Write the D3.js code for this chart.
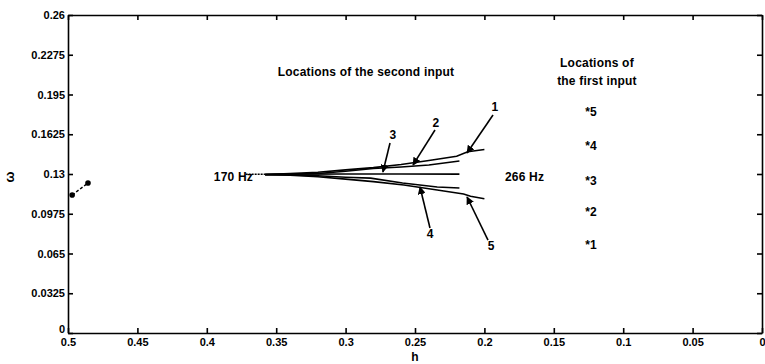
<!DOCTYPE html>
<html>
<head>
<meta charset="utf-8">
<script src="https://cdn.jsdelivr.net/npm/d3@7"></script>
<style>
  body { margin: 0; background: #fff; }
  svg { display: block; }
  text { font-family: "Liberation Sans Narrow", "Liberation Sans", Arial, sans-serif; font-weight: bold; fill: #000; }
  .axis path, .axis line { stroke: #000; stroke-width: 1.6px; }
  .axis text { font-size: 11px; }
</style>
</head>
<body>
<div id="chart"></div>
<script>
// axis ticks
const xTicks = [0.5, 0.45, 0.4, 0.35, 0.3, 0.25, 0.2, 0.15, 0.1, 0.05, 0];
const xTickLabels = ['0.5', '0.45', '0.4', '0.35', '0.3', '0.25', '0.2', '0.15', '0.1', '0.05', '0'];
const yTicks = [0, 0.0325, 0.065, 0.0975, 0.13, 0.1625, 0.195, 0.2275, 0.26];
const yTickLabels = ['0', '0.0325', '0.065', '0.0975', '0.13', '0.1625', '0.195', '0.2275', '0.26'];

// second-input trajectories (h, omega)
const curve1H = [0.358, 0.34, 0.32, 0.30, 0.28, 0.26, 0.24, 0.22, 0.212, 0.20];
const curve1W = [0.1296, 0.1304, 0.1314, 0.1334, 0.1352, 0.1378, 0.1410, 0.1445, 0.1482, 0.1500];
const curve2H = [0.358, 0.34, 0.32, 0.30, 0.28, 0.26, 0.24, 0.218];
const curve2W = [0.1296, 0.1300, 0.1304, 0.1322, 0.1345, 0.1357, 0.1374, 0.1406];
const curve3H = [0.358, 0.34, 0.30, 0.26, 0.218];
const curve3W = [0.1298, 0.1299, 0.1300, 0.1300, 0.1299];
const curve4H = [0.358, 0.34, 0.32, 0.30, 0.282, 0.259, 0.234, 0.218];
const curve4W = [0.1294, 0.1292, 0.1286, 0.1274, 0.1266, 0.1226, 0.1194, 0.1186];
const curve5H = [0.358, 0.34, 0.32, 0.30, 0.28, 0.258, 0.234, 0.215, 0.21, 0.20];
const curve5W = [0.1294, 0.1290, 0.1278, 0.1258, 0.1238, 0.1210, 0.1169, 0.1137, 0.1118, 0.1098];

// two marks at the left edge
const leftH = [0.497, 0.4856];
const leftW = [0.1128, 0.1226];

// first-input locations
const firstLabels = ['5', '4', '3', '2', '1'];
const firstH = 0.1232;
const firstW = [0.1807, 0.1529, 0.1243, 0.0989, 0.0720];

// numbered callouts: label pos, leader start, leader end
const calloutLabels = ['1', '2', '3', '4', '5'];
const calloutTextH = [0.1924, 0.2349, 0.2659, 0.2392, 0.1952];
const calloutTextW = [0.1848, 0.1717, 0.1619, 0.0809, 0.0711];
const leaderH0 = [0.1938, 0.2356, 0.2680, 0.2392, 0.1974];
const leaderW0 = [0.1782, 0.1660, 0.1553, 0.0858, 0.0760];
const leaderH1 = [0.2125, 0.2514, 0.2731, 0.2464, 0.2125];
const leaderW1 = [0.1472, 0.1374, 0.1316, 0.1194, 0.1112];

const width = 765, height = 364;
const margin = { top: 15, right: 3, bottom: 31, left: 68 };

const svg = d3.select('#chart').append('svg')
  .attr('width', width)
  .attr('height', height);

const x = d3.scaleLinear().domain([0.5, 0]).range([margin.left, width - margin.right]);
const y = d3.scaleLinear().domain([0, 0.26]).range([height - margin.bottom, margin.top]);

// axes, ticks pointing inward like matlab
svg.append('g').attr('class', 'axis')
  .attr('transform', 'translate(0,' + (height - margin.bottom) + ')')
  .call(d3.axisBottom(x).tickValues(xTicks).tickSizeInner(-5).tickSizeOuter(0).tickPadding(5)
    .tickFormat((d, i) => xTickLabels[i]));

svg.append('g').attr('class', 'axis')
  .attr('transform', 'translate(0,' + margin.top + ')')
  .call(d3.axisTop(x).tickValues(xTicks).tickSizeInner(-5).tickSizeOuter(0).tickFormat(''));

const yAxis = svg.append('g').attr('class', 'axis')
  .attr('transform', 'translate(' + margin.left + ',0)')
  .call(d3.axisLeft(y).tickValues(yTicks).tickSizeInner(-5).tickSizeOuter(0).tickPadding(3)
    .tickFormat((d, i) => yTickLabels[i]));
// lift the zero label off the x labels
yAxis.selectAll('.tick text').filter(d => d === 0).attr('dy', '-0.05em');

svg.append('g').attr('class', 'axis')
  .attr('transform', 'translate(' + (width - margin.right) + ',0)')
  .call(d3.axisRight(y).tickValues(yTicks).tickSizeInner(-5).tickSizeOuter(0).tickFormat(''));

svg.selectAll('.axis .domain').attr('stroke-width', 1.8);

svg.append('text')
  .attr('x', x(0.25)).attr('y', height - 3)
  .attr('text-anchor', 'middle')
  .style('font-size', '12px')
  .text('h');

svg.append('text')
  .attr('transform', 'translate(14,' + y(0.1275) + ') rotate(-90)')
  .attr('text-anchor', 'middle')
  .style('font-size', '13px')
  .text('ω');

// trajectories
const line = d3.line().x(d => x(d[0])).y(d => y(d[1]));
const curves = [
  [curve1H, curve1W], [curve2H, curve2W], [curve3H, curve3W], [curve4H, curve4W], [curve5H, curve5W]
];
svg.append('g').selectAll('path')
  .data(curves)
  .enter()
  .append('path')
  .attr('d', c => line(c[0].map((h, i) => [h, c[1][i]])))
  .attr('fill', 'none')
  .attr('stroke', '#000')
  .attr('stroke-width', 1.6);

// tail on the low-h side of the bundle
svg.append('path')
  .attr('d', line([[0.372, 0.1298], [0.358, 0.1298]]))
  .attr('stroke', '#000')
  .attr('stroke-width', 1.4)
  .attr('stroke-dasharray', '2,1');

// left marks
svg.append('path')
  .attr('d', line(leftH.map((h, i) => [h, leftW[i]])))
  .attr('stroke', '#000')
  .attr('stroke-width', 1.5)
  .attr('stroke-dasharray', '3,2');
svg.append('g').selectAll('circle')
  .data(leftH)
  .enter()
  .append('circle')
  .attr('cx', d => x(d))
  .attr('cy', (d, i) => y(leftW[i]))
  .attr('r', 2.8)
  .attr('fill', '#000');

// callouts
svg.append('defs').append('marker')
  .attr('id', 'arrow')
  .attr('viewBox', '0 0 10 10')
  .attr('refX', 9).attr('refY', 5)
  .attr('markerWidth', 5).attr('markerHeight', 5)
  .attr('orient', 'auto')
  .append('path')
  .attr('d', 'M0,0L10,5L0,10Z')
  .attr('fill', '#000');

svg.append('g').selectAll('line')
  .data(calloutLabels)
  .enter()
  .append('line')
  .attr('x1', (d, i) => x(leaderH0[i]))
  .attr('y1', (d, i) => y(leaderW0[i]))
  .attr('x2', (d, i) => x(leaderH1[i]))
  .attr('y2', (d, i) => y(leaderW1[i]))
  .attr('stroke', '#000')
  .attr('stroke-width', 1.6)
  .attr('marker-end', 'url(#arrow)');

svg.append('g').selectAll('text')
  .data(calloutLabels)
  .enter()
  .append('text')
  .attr('x', (d, i) => x(calloutTextH[i]))
  .attr('y', (d, i) => y(calloutTextW[i]))
  .attr('dy', '0.35em')
  .attr('text-anchor', 'middle')
  .style('font-size', '12px')
  .text(d => d);

// first input locations
svg.append('g').selectAll('text')
  .data(firstLabels)
  .enter()
  .append('text')
  .attr('x', x(firstH))
  .attr('y', (d, i) => y(firstW[i]))
  .attr('dy', '0.35em')
  .attr('text-anchor', 'middle')
  .style('font-size', '12px')
  .text(d => '*' + d);

// text annotations
const note = (h, w, txt, anchor, size) => svg.append('text')
  .attr('x', x(h)).attr('y', y(w))
  .attr('dy', '0.35em')
  .attr('text-anchor', anchor)
  .style('font-size', size + 'px')
  .style('letter-spacing', '0.2px')
  .text(txt);

note(0.3667, 0.1275, '170 Hz', 'end', 12);
note(0.1852, 0.1275, '266 Hz', 'start', 12);
note(0.2853, 0.2134, 'Locations of the second input', 'middle', 12);
note(0.1189, 0.2208, 'Locations of', 'middle', 12);
note(0.1189, 0.2060, 'the first input', 'middle', 12);
</script>
</body>
</html>
